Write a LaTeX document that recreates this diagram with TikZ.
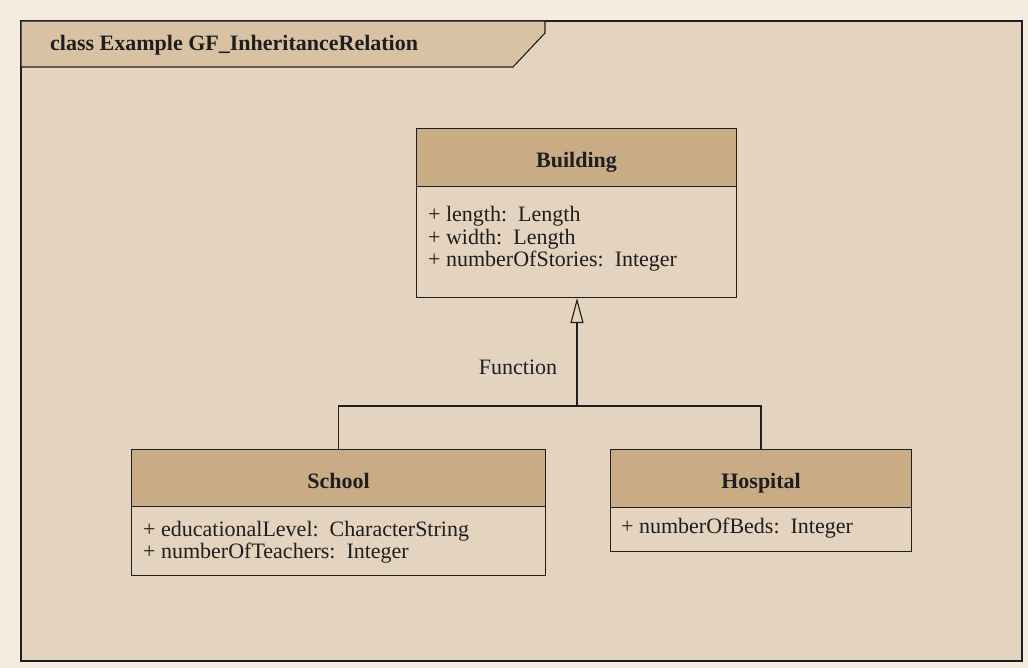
\documentclass[tikz,border=0pt]{standalone}
\usepackage{fontspec}
\IfFontExistsTF{LiberationSerif-Regular.ttf}
  {\setmainfont{LiberationSerif}[Extension=.ttf, UprightFont=*-Regular, BoldFont=*-Bold, ItalicFont=*-Italic, BoldItalicFont=*-BoldItalic]}
  {\setmainfont{Liberation Serif}}
\usetikzlibrary{arrows.meta}
\definecolor{pagebg}{HTML}{F4EBE1}
\definecolor{framebg}{HTML}{E3D3BF}
\definecolor{tabbg}{HTML}{D9C2A4}
\definecolor{headbg}{HTML}{C9AB86}
\definecolor{ink}{HTML}{1E1E1E}
\newcommand{\firstline}{\rule{0pt}{20pt}}
\tikzset{
  umltext/.style={font=\fontsize{22}{22.5}\selectfont, text=ink},
  classhead/.style={draw=ink, line width=1.1pt, fill=headbg, inner sep=0pt,
    text height=20.4pt, text depth=0pt,
    anchor=north west, font=\fontsize{22}{22.5}\selectfont\bfseries, text=ink},
  classbody/.style={draw=ink, line width=1.1pt, fill=framebg, inner sep=0pt, anchor=north west},
  attrs/.style={umltext, align=left, anchor=north west, inner sep=0pt},
  link/.style={draw=ink, line width=1.3pt},
}
\begin{document}
\begin{tikzpicture}[x=1pt,y=-1pt]
  % page and diagram frame
  \fill[pagebg] (0,0) rectangle (1028,668);
  \useasboundingbox (0,0) rectangle (1028,668);
  \draw[ink, line width=1.3pt, fill=framebg] (21,21) rectangle (1022,661);
  % title tab
  \draw[ink, line width=1.1pt, fill=tabbg] (21,21) -- (545,21) -- (545,33) -- (513,67) -- (21,67) -- cycle;
  \node[umltext, font=\fontsize{22}{22}\selectfont\bfseries, anchor=base west, inner sep=0pt] (title) at (50,51) {class Example GF\_InheritanceRelation};

  % Building
  \node[classhead, minimum width=320pt, minimum height=58pt] (bh) at (416,128) {Building};
  \node[classbody, minimum width=320pt, minimum height=111pt] (bb) at (416,186) {};
  \node[attrs] (battr) at (428,201.7) {\firstline+ length:\ \ Length\\+ width:\ \ Length\\+ numberOfStories:\ \ Integer};

  % School
  \node[classhead, minimum width=414pt, minimum height=57pt] (sh) at (131,449) {School};
  \node[classbody, minimum width=414pt, minimum height=69pt] (sb) at (131,506) {};
  \node[attrs] (sattr) at (143,516) {\firstline+ educationalLevel:\ \ CharacterString\\+ numberOfTeachers:\ \ Integer};

  % Hospital
  \node[classhead, minimum width=301pt, minimum height=58pt] (hh) at (610,449) {Hospital};
  \node[classbody, minimum width=301pt, minimum height=44pt] (hb) at (610,507) {};
  \node[attrs] (hattr) at (621,513.3) {\firstline+ numberOfBeds:\ \ Integer};

  % generalisation
  \coordinate (join) at (577,406);
  \draw[link] (sh.north) |- (join) -| (hh.north);
  \draw[link, -{Triangle[open, length=25pt, width=13pt, line width=1.1pt]}] (join) -- (bb.south -| join);
  \node[umltext, anchor=base, inner sep=0pt] (fn) at (518,374) {Function};
\end{tikzpicture}
\end{document}
